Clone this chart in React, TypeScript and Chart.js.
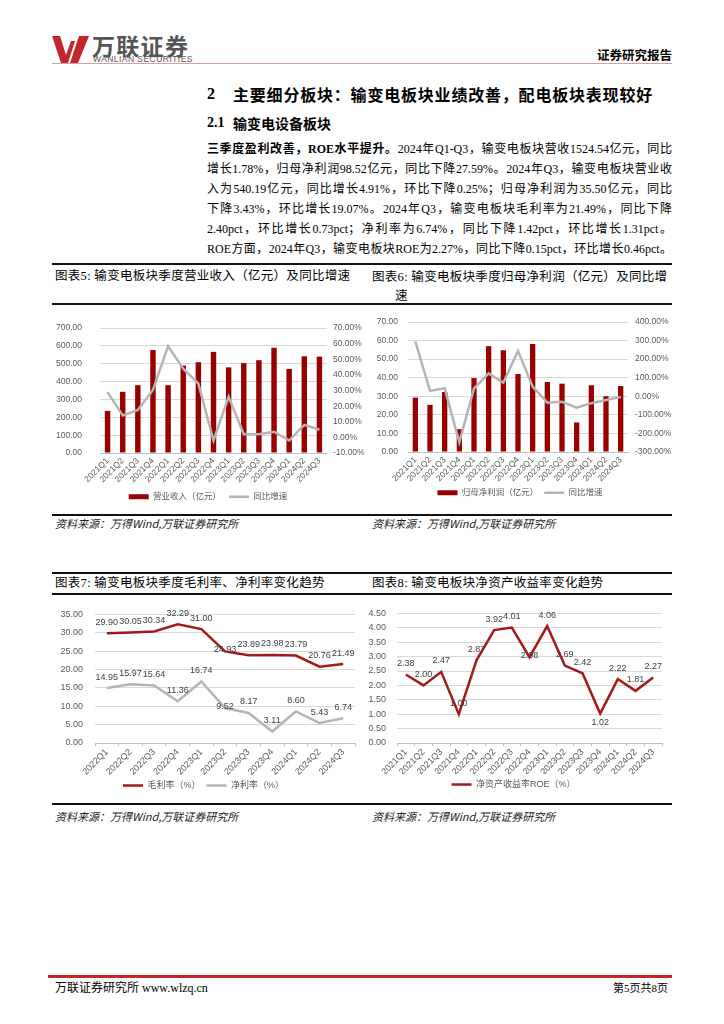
import React, { useEffect, useRef } from 'react';
import { Chart, registerables } from 'chart.js';

Chart.register(...registerables);

// ---------- data ----------
const quarters15 = ['2021Q1', '2021Q2', '2021Q3', '2021Q4', '2022Q1', '2022Q2', '2022Q3', '2022Q4', '2023Q1', '2023Q2', '2023Q3', '2023Q4', '2024Q1', '2024Q2', '2024Q3'];
const quarters11 = ['2022Q1', '2022Q2', '2022Q3', '2022Q4', '2023Q1', '2023Q2', '2023Q3', '2023Q4', '2024Q1', '2024Q2', '2024Q3'];

const revenue = [236, 343, 380, 577, 380, 490, 509, 567, 480, 504, 520, 590, 471, 542, 540.19];
const revenueYoY = [29, 14, 17.6, 30.4, 58.4, 44, 34.4, -2, 26, 2, 2, 3.6, -2, 8, 4.91];
const profit = [29.3, 25.4, 32.3, 12.3, 39.8, 57.0, 54.8, 42.0, 58.2, 37.7, 36.8, 15.9, 35.9, 30.0, 35.5];
const profitYoY = [296, 29, 43, -248, 43, 123, 73, 245, 52, -34, -30, -61, -37, -20, -3.43];
const grossMargin = [29.90, 30.05, 30.34, 32.29, 31.00, 24.93, 23.89, 23.98, 23.79, 20.76, 21.49];
const netMargin = [14.95, 15.97, 15.64, 11.36, 16.74, 9.52, 8.17, 3.11, 8.60, 5.43, 6.74];
const roe = [2.38, 2.00, 2.47, 1.00, 2.87, 3.92, 4.01, 2.98, 4.06, 2.69, 2.42, 1.02, 2.22, 1.81, 2.27];

// axis ranges [min, max, step]
const revAxis = [0, 700, 100];
const revYoYAxis = [-10, 70, 10];
const profitAxis = [0, 70, 10];
const profitYoYAxis = [-300, 400, 100];
const marginAxis = [0, 35, 5];
const roeAxis = [0, 4.5, 0.5];

// ---------- styles ----------
const SERIF = "'Liberation Serif','Noto Sans CJK SC',serif";
const CJK = "'Noto Sans CJK SC','Liberation Sans',sans-serif";
const CFONT = "'Liberation Sans','Noto Sans CJK SC',sans-serif";
const TICK = '#595959';
const GRID = '#d9d9d9';
const AXIS = '#bfbfbf';
const BAR_RED = '#990000';
const LINE_RED = '#a31a1a';
const LINE_GRAY = '#b4b4b4';

function yAxis(pos: string, range: number[], suffix: string, width: number, padding: number, grid: boolean, size: number) {
  return {
    position: pos,
    min: range[0],
    max: range[1],
    ticks: {
      stepSize: range[2],
      padding,
      color: TICK,
      font: { family: CFONT, size },
      callback: (v: any) => Number(v).toFixed(2) + suffix,
    },
    grid: grid ? { color: GRID, drawTicks: false, lineWidth: 1 } : { display: false, drawTicks: false },
    border: { display: false },
    afterFit: (s: any) => { s.width = width; },
  };
}

function xAxis(height: number, marks: boolean, size: number) {
  return {
    offset: true,
    grid: { display: marks, drawOnChartArea: false, drawTicks: marks, tickLength: 3, color: AXIS, offset: true },
    border: { display: true, color: AXIS, width: 1 },
    ticks: { autoSkip: false, minRotation: 45, maxRotation: 45, padding: marks ? 1 : 3, color: TICK, font: { family: CFONT, size } },
    afterFit: (s: any) => { s.height = height; },
  };
}

function legendCfg(size: number, pad: number, styles: { ps: string; lw: number }[]) {
  return {
    position: 'bottom',
    labels: {
      usePointStyle: true,
      pointStyleWidth: 20,
      boxHeight: 5,
      padding: pad,
      color: TICK,
      font: { family: CFONT, size },
      sort: (a: any, b: any) => a.datasetIndex - b.datasetIndex,
      generateLabels: (chart: any) =>
        (Chart.defaults.plugins.legend.labels as any).generateLabels(chart).map((it: any) => ({
          ...it,
          pointStyle: styles[it.datasetIndex].ps,
          lineWidth: styles[it.datasetIndex].lw,
        })),
    },
  };
}

const valueLabels = {
  id: 'valueLabels',
  afterDatasetsDraw(chart: any, _args: any, opts: any) {
    const ctx = chart.ctx;
    ctx.save();
    ctx.font = `${opts.size || 9}px ${CFONT}`;
    ctx.fillStyle = '#404040';
    ctx.textAlign = 'center';
    ctx.textBaseline = 'middle';
    chart.data.datasets.forEach((ds: any, i: number) => {
      const meta = chart.getDatasetMeta(i);
      const place = (opts.place && opts.place[i]) || {};
      meta.data.forEach((pt: any, j: number) => {
        const p = place[j] || 'above';
        const dy = p === 'below' ? 9 : p === 'near' ? -2 : -11;
        ctx.fillText(Number(ds.data[j]).toFixed(2), pt.x, pt.y + dy);
      });
    });
    ctx.restore();
  },
};

// ---------- chart configs ----------
const chart5 = () => ({
  type: 'bar',
  data: {
    labels: quarters15,
    datasets: [
      { type: 'bar', label: '营业收入（亿元）', data: revenue, backgroundColor: BAR_RED, barPercentage: 0.36, categoryPercentage: 1, yAxisID: 'y', order: 2 },
      { type: 'line', label: '同比增速', data: revenueYoY, borderColor: LINE_GRAY, backgroundColor: LINE_GRAY, borderWidth: 2.5, pointRadius: 0, tension: 0, yAxisID: 'y1', order: 1 },
    ],
  },
  options: {
    responsive: false,
    animation: false,
    devicePixelRatio: 1,
    layout: { padding: { top: 15, left: 0, right: 0, bottom: 0 } },
    plugins: { legend: legendCfg(8.5, 8, [{ ps: 'rect', lw: 0 }, { ps: 'line', lw: 2.5 }]), tooltip: { enabled: false } },
    scales: {
      x: xAxis(31.5, false, 8.5),
      y: yAxis('left', revAxis, '', 48, 18, true, 8.5),
      y1: yAxis('right', revYoYAxis, '%', 37, 6, false, 8.5),
    },
  },
});

const chart6 = () => ({
  type: 'bar',
  data: {
    labels: quarters15,
    datasets: [
      { type: 'bar', label: '归母净利润（亿元）', data: profit, backgroundColor: BAR_RED, barPercentage: 0.36, categoryPercentage: 1, yAxisID: 'y', order: 2 },
      { type: 'line', label: '同比增速', data: profitYoY, borderColor: LINE_GRAY, backgroundColor: LINE_GRAY, borderWidth: 2.5, pointRadius: 0, tension: 0, yAxisID: 'y1', order: 1 },
    ],
  },
  options: {
    responsive: false,
    animation: false,
    devicePixelRatio: 1,
    layout: { padding: { top: 17, left: 0, right: 0, bottom: 0 } },
    plugins: { legend: legendCfg(8.5, 6, [{ ps: 'rect', lw: 0 }, { ps: 'line', lw: 2.5 }]), tooltip: { enabled: false } },
    scales: {
      x: xAxis(30.5, false, 8.5),
      y: yAxis('left', profitAxis, '', 40, 10, true, 8.5),
      y1: yAxis('right', profitYoYAxis, '%', 44, 7, false, 8.5),
    },
  },
});

const chart7 = () => ({
  type: 'line',
  data: {
    labels: quarters11,
    datasets: [
      { label: '毛利率（%）', data: grossMargin, borderColor: LINE_RED, backgroundColor: LINE_RED, borderWidth: 2.5, pointRadius: 0, tension: 0 },
      { label: '净利率（%）', data: netMargin, borderColor: LINE_GRAY, backgroundColor: LINE_GRAY, borderWidth: 2.5, pointRadius: 0, tension: 0 },
    ],
  },
  options: {
    responsive: false,
    animation: false,
    devicePixelRatio: 1,
    layout: { padding: { top: 14, left: 0, right: 7, bottom: 0 } },
    plugins: {
      legend: legendCfg(9, 6, [{ ps: 'line', lw: 2.5 }, { ps: 'line', lw: 2.5 }]),
      tooltip: { enabled: false },
      valueLabels: { size: 9, place: [{ 5: 'near' }, { 5: 'near' }] },
    },
    scales: {
      x: xAxis(32, true, 9),
      y: yAxis('left', marginAxis, '', 43, 12, true, 9),
    },
  },
  plugins: [valueLabels],
});

const chart8 = () => ({
  type: 'line',
  data: {
    labels: quarters15,
    datasets: [
      { label: '净资产收益率ROE（%）', data: roe, borderColor: LINE_RED, backgroundColor: LINE_RED, borderWidth: 2.5, pointRadius: 0, tension: 0 },
    ],
  },
  options: {
    responsive: false,
    animation: false,
    devicePixelRatio: 1,
    layout: { padding: { top: 14, left: 0, right: 10, bottom: 0 } },
    plugins: {
      legend: legendCfg(9, 6, [{ ps: 'line', lw: 2.5 }]),
      tooltip: { enabled: false },
      valueLabels: { size: 9, place: [{ 7: 'near', 11: 'below' }] },
    },
    scales: {
      x: xAxis(31, true, 9),
      y: yAxis('left', roeAxis, '', 32, 11, true, 9),
    },
  },
  plugins: [valueLabels],
});

// ---------- components ----------
function ChartBox({ left, top, width, height, build }: any) {
  const ref = useRef<HTMLCanvasElement>(null);
  useEffect(() => {
    const chart = new Chart(ref.current as HTMLCanvasElement, build());
    return () => chart.destroy();
  }, []);
  return <canvas ref={ref} width={width} height={height} style={{ position: 'absolute', left, top, width, height }} />;
}

function Txt({ x, y, size, right, children, style }: any) {
  const pos: any = { position: 'absolute', top: y - size / 2, fontSize: size, lineHeight: `${size}px`, whiteSpace: 'nowrap' };
  if (right !== undefined) pos.right = right; else pos.left = x;
  return <div style={{ ...pos, ...style }}>{children}</div>;
}

function HLine({ x, y, w, h, color }: any) {
  return <div style={{ position: 'absolute', left: x, top: y, width: w, height: h, background: color }} />;
}

const paraLines: any[] = [
  <><b>三季度盈利改善，ROE水平提升。</b>2024年Q1-Q3，输变电板块营收1524.54亿元，同比</>,
  <>增长1.78%，归母净利润98.52亿元，同比下降27.59%。2024年Q3，输变电板块营业收</>,
  <>入为540.19亿元，同比增长4.91%，环比下降0.25%；归母净利润为35.50亿元，同比</>,
  <>下降3.43%，环比增长19.07%。2024年Q3，输变电板块毛利率为21.49%，同比下降</>,
  <>2.40pct，环比增长0.73pct；净利率为6.74%，同比下降1.42pct，环比增长1.31pct。</>,
  <>ROE方面，2024年Q3，输变电板块ROE为2.27%，同比下降0.15pct，环比增长0.46pct。</>,
];

export default function App() {
  const src = '资料来源：万得Wind,万联证券研究所';
  const srcStyle = { fontFamily: CJK, fontStyle: 'italic', color: '#222' };
  const titleStyle = { fontFamily: SERIF, color: '#000', letterSpacing: 0.3 };
  return (
    <div style={{ position: 'absolute', left: 0, top: 0, width: 724, height: 1024, background: '#fff', fontFamily: SERIF, color: '#000', overflow: 'hidden' }}>
      {/* header */}
      <svg style={{ position: 'absolute', left: 52, top: 36 }} width={37} height={27} viewBox="0 0 37 27">
        <polygon points="0,0 8,0 14,19 19,5 23,5 16,27 9,27" fill="#c1272d" />
        <polygon points="18,27 27,0 37,0 26,27" fill="#c1272d" />
      </svg>
      <Txt x={92} y={45} size={23} style={{ fontFamily: CJK, fontWeight: 700, color: '#555', letterSpacing: 1.3 }}>万联证券</Txt>
      <Txt x={93} y={59} size={8.5} style={{ fontFamily: "'Liberation Sans',sans-serif", color: '#555', letterSpacing: 0.45 }}>WANLIAN SECURITIES</Txt>
      <HLine x={52} y={63} w={620} h={1} color="#d4a0a0" />
      <Txt right={52} y={55} size={12.5} style={{ fontFamily: CJK, fontWeight: 700 }}>证券研究报告</Txt>

      {/* headings */}
      <Txt x={207} y={94} size={16} style={{ fontWeight: 700 }}>2</Txt>
      <Txt x={233} y={94} size={16} style={{ fontFamily: CJK, fontWeight: 700, letterSpacing: 0.8 }}>主要细分板块：输变电板块业绩改善，配电板块表现较好</Txt>
      <Txt x={207} y={123} size={14} style={{ fontWeight: 700 }}>2.1</Txt>
      <Txt x={233} y={123} size={14} style={{ fontFamily: CJK, fontWeight: 700 }}>输变电设备板块</Txt>

      {/* paragraph */}
      {paraLines.map((ln, i) => (
        <div key={i} style={{ position: 'absolute', left: 207, top: 149 + i * 20 - 6, width: 465, fontSize: 12, lineHeight: '12px', textAlign: 'justify', textAlignLast: 'justify' as any }}>{ln}</div>
      ))}

      {/* row 1 frames */}
      <HLine x={52} y={263} w={620} h={2} color="#111" />
      <HLine x={52} y={303} w={620} h={2} color="#111" />
      <HLine x={52} y={514} w={620} h={2} color="#111" />
      <Txt x={55} y={276} size={12.5} style={titleStyle}>图表5:  输变电板块季度营业收入（亿元）及同比增速</Txt>
      <Txt x={372} y={277} size={12.5} style={titleStyle}>图表6:  输变电板块季度归母净利润（亿元）及同比增</Txt>
      <Txt x={395} y={296} size={12.5} style={titleStyle}>速</Txt>
      <Txt x={55} y={523} size={11} style={srcStyle}>{src}</Txt>
      <Txt x={372} y={523} size={11} style={srcStyle}>{src}</Txt>

      <ChartBox left={52} top={305} width={312} height={206} build={chart5} />
      <ChartBox left={368} top={305} width={304} height={202} build={chart6} />

      {/* row 2 frames */}
      <HLine x={52} y={572} w={620} h={2} color="#111" />
      <HLine x={52} y={593} w={620} h={2} color="#111" />
      <HLine x={52} y={803} w={620} h={2} color="#111" />
      <Txt x={55} y={583} size={12.5} style={titleStyle}>图表7:  输变电板块季度毛利率、净利率变化趋势</Txt>
      <Txt x={372} y={583} size={12.5} style={titleStyle}>图表8:  输变电板块净资产收益率变化趋势</Txt>
      <Txt x={55} y={816} size={11} style={srcStyle}>{src}</Txt>
      <Txt x={372} y={816} size={11} style={srcStyle}>{src}</Txt>

      <ChartBox left={52} top={597} width={310} height={203} build={chart7} />
      <ChartBox left={365} top={597} width={307} height={202} build={chart8} />

      {/* footer */}
      <HLine x={48} y={975} w={624} h={3} color="#c1272d" />
      <Txt x={55} y={988} size={12} style={{ fontFamily: SERIF }}>万联证券研究所  www.wlzq.cn</Txt>
      <Txt right={56} y={988} size={11} style={{ fontFamily: SERIF }}>第5页共8页</Txt>
    </div>
  );
}
